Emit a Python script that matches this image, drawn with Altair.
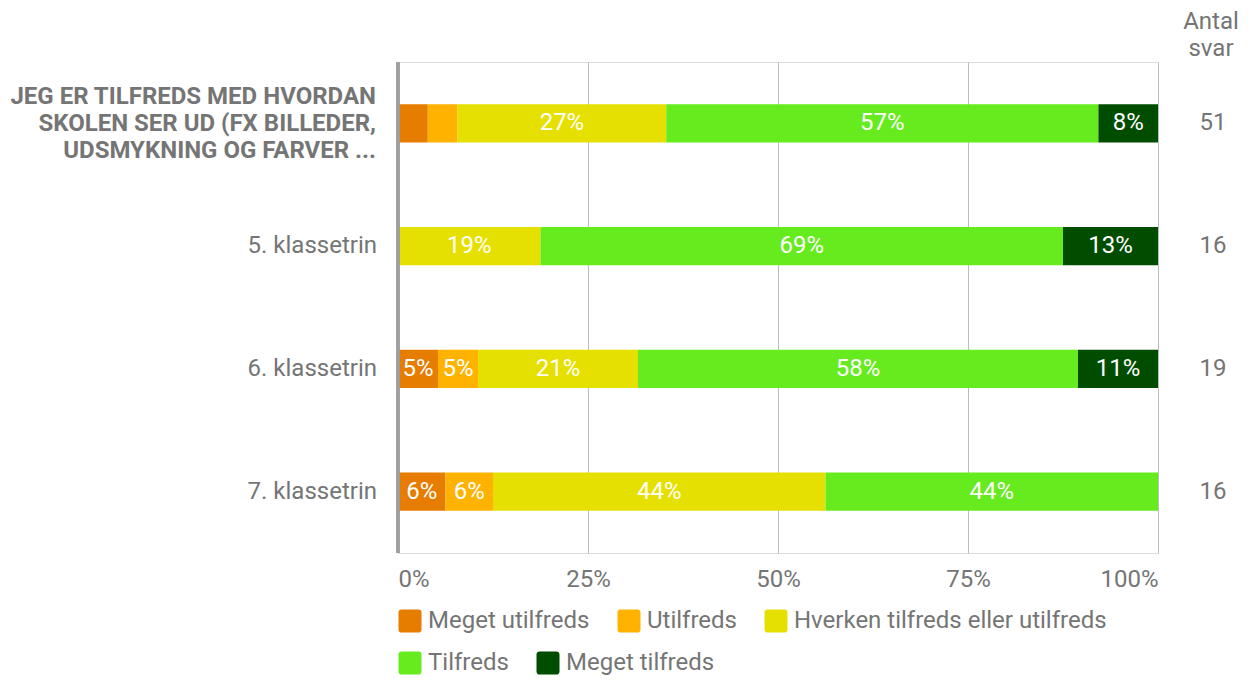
import altair as alt
import pandas as pd

# ---- data ----
row_ids = ["total", "k5", "k6", "k7"]
row_labels = [
    "JEG ER TILFREDS MED HVORDAN\nSKOLEN SER UD (FX BILLEDER,\nUDSMYKNING OG FARVER ...",
    "5. klassetrin",
    "6. klassetrin",
    "7. klassetrin",
]
responses = ["Meget utilfreds", "Utilfreds", "Hverken tilfreds eller utilfreds",
             "Tilfreds", "Meget tilfreds"]
colors = ["#E67C00", "#FFB300", "#E6E000", "#66EB1E", "#004D00"]
# answer counts per row (Antal svar = row sum)
counts_total = [2, 2, 14, 29, 4]
counts_k5 = [0, 0, 3, 11, 2]
counts_k6 = [1, 1, 4, 11, 2]
counts_k7 = [1, 1, 7, 7, 0]
antal_svar = [51, 16, 19, 16]

all_counts = [counts_total, counts_k5, counts_k6, counts_k7]

recs = []
for rid, cnts, n in zip(row_ids, all_counts, antal_svar):
    for i, (resp, c) in enumerate(zip(responses, cnts)):
        recs.append({"row": rid, "resp": resp, "idx": i, "n": c, "total": n,
                     "grp": "a" if i < 3 else "b"})
df = pd.DataFrame(recs)

lab_df = pd.DataFrame({"row": row_ids, "label": row_labels, "antal": antal_svar,
                       "bold": [True, False, False, False]})

W, H = 760, 491
GREY = "#757575"
FONT = "Roboto"
FS = 24
ROUNDED_SQUARE = ("M-1,-0.75 A0.25,0.25 0 0 1 -0.75,-1 L0.75,-1 "
                  "A0.25,0.25 0 0 1 1,-0.75 L1,0.75 A0.25,0.25 0 0 1 0.75,1 "
                  "L-0.75,1 A0.25,0.25 0 0 1 -1,0.75 Z")

yenc = alt.Y("row:N", sort=row_ids, axis=None,
             scale=alt.Scale(paddingInner=0.69, paddingOuter=0.345))

base = alt.Chart(df).transform_calculate(
    pct="datum.n / datum.total"
).transform_window(
    x1="sum(pct)", groupby=["row"], sort=[alt.SortField("idx")],
    frame=[None, 0]
).transform_calculate(
    x0="datum.x1 - datum.pct", xm="datum.x1 - datum.pct / 2"
)

xaxis = alt.Axis(values=[0, 0.25, 0.5, 0.75, 1], format=".0%",
                 grid=True, gridColor="#BDBDBD", gridWidth=1,
                 domain=False, ticks=False, labelFlush=True,
                 labelFont=FONT, labelFontSize=FS, labelColor=GREY,
                 labelPadding=14, title=None)


def legend(y):
    return alt.Legend(orient="none", legendX=0, legendY=y,
                      direction="horizontal", title=None,
                      symbolType=ROUNDED_SQUARE, symbolSize=529,
                      symbolStrokeWidth=0, symbolOpacity=1,
                      labelFont=FONT, labelFontSize=FS,
                      labelColor=GREY, labelOffset=6,
                      columnPadding=27, labelLimit=500)


bars_a = base.transform_filter("datum.grp == 'a'").mark_bar().encode(
    x=alt.X("x0:Q", scale=alt.Scale(domain=[0, 1], nice=False), axis=xaxis),
    x2="x1:Q",
    y=yenc,
    color=alt.Color("resp:N", scale=alt.Scale(domain=responses[:3], range=colors[:3]),
                    legend=legend(547)),
)

bars_b = base.transform_filter("datum.grp == 'b'").transform_calculate(
    resp_b="datum.resp"
).mark_bar().encode(
    x=alt.X("x0:Q"),
    x2="x1:Q",
    y=yenc,
    fill=alt.Fill("resp_b:N", scale=alt.Scale(domain=responses[3:], range=colors[3:]),
                  legend=legend(589)),
)

seg_text = base.transform_filter("datum.pct >= 0.05").mark_text(
    font=FONT, fontSize=FS, color="white", baseline="middle", align="center"
).encode(
    x=alt.X("xm:Q"),
    y=yenc,
    text=alt.Text("pct:Q", format=".0%"),
)

zero_rule = alt.Chart(lab_df).mark_rule(color="#9E9E9E", strokeWidth=3).encode(
    x=alt.datum(0), y=alt.value(0), y2=alt.value(H)
)

lab_base = alt.Chart(lab_df)
bold_labels = lab_base.transform_filter("datum.bold").mark_text(
    font=FONT, fontSize=FS, fontWeight="bold", color=GREY, align="right",
    baseline="middle", lineBreak="\n", lineHeight=27, dy=-26
).encode(x=alt.value(-22), y=yenc, text="label:N")

norm_labels = lab_base.transform_filter("!datum.bold").mark_text(
    font=FONT, fontSize=FS, color=GREY, align="right", baseline="middle"
).encode(x=alt.value(-21), y=yenc, text="label:N")

antal_text = lab_base.mark_text(
    font=FONT, fontSize=FS, color=GREY, align="center", baseline="middle"
).encode(x=alt.value(815), y=yenc, text="antal:Q")

header = alt.Chart(pd.DataFrame({"t": ["Antal\nsvar"]})).mark_text(
    font=FONT, fontSize=FS, color=GREY, align="center", baseline="middle",
    lineBreak="\n", lineHeight=27
).encode(x=alt.value(813), y=alt.value(-40), text="t:N")

chart = alt.layer(
    bars_a, bars_b, zero_rule, seg_text, bold_labels, norm_labels, antal_text, header
).resolve_scale(color="independent", fill="independent").properties(
    width=W, height=H,
    autosize=alt.AutoSizeParams(type="none"),
    padding={"left": 390, "top": 54, "right": 89, "bottom": 123},
).configure_view(stroke=None).configure(background="white")

chart.save("out.html", embed_options={"renderer": "svg", "actions": False})
